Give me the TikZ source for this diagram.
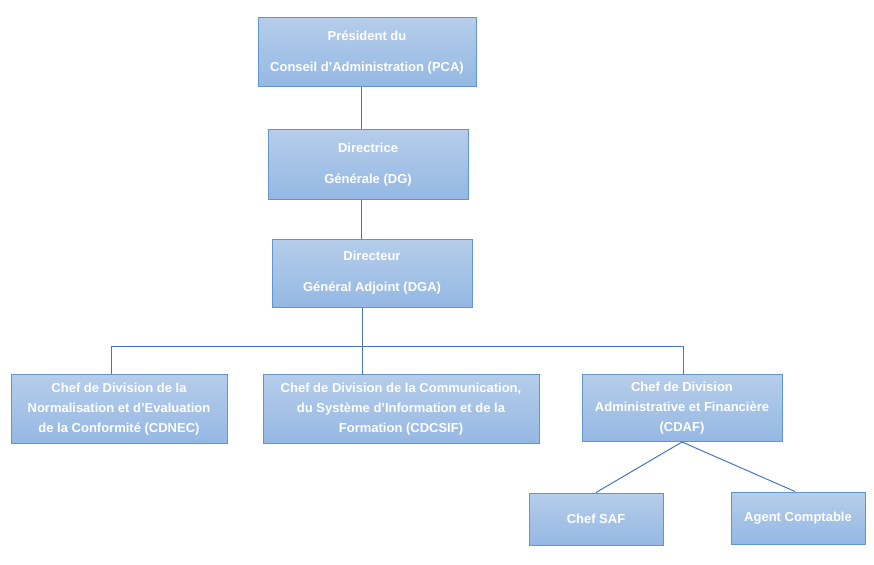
\documentclass[tikz,border=0pt]{standalone}
\usepackage{fontspec}
\setmainfont{Liberation Sans}
\usetikzlibrary{positioning}

\definecolor{boxtop}{RGB}{182,205,234}
\definecolor{boxbottom}{RGB}{148,184,227}
\definecolor{boxborder}{RGB}{96,150,208}
\definecolor{linkblue}{RGB}{70,117,196}

\begin{document}
\begin{tikzpicture}[
x=1pt, y=-1pt,
orgbox/.style={rectangle, draw=boxborder, line width=1pt, top color=boxtop, bottom color=boxbottom, text=white, font=\bfseries\fontsize{13}{20}\selectfont, align=center, inner sep=0pt},
link/.style={draw=linkblue, line width=1pt},
]
\useasboundingbox (0,0) rectangle (874,564);

%Nodes
\node[orgbox, minimum width=218pt, minimum height=69pt] (pca) at (367,52.5) {Président du\\[11pt]Conseil d’Administration (PCA)};

\node[orgbox, minimum width=200pt, minimum height=69pt] (dg) [below=42pt of pca, xshift=1pt] {Directrice\\[11pt]Générale (DG)};
\node[orgbox, minimum width=200pt, minimum height=68pt] (dga) [below=39pt of dg, xshift=4pt] {Directeur\\[11pt]Général Adjoint (DGA)};

\node[orgbox, minimum width=216pt, minimum height=69pt] (cdnec) at (119,409) {Chef de Division de la\\Normalisation et d’Evaluation\\de la Conformité (CDNEC)};
\node[orgbox, minimum width=276pt, minimum height=69pt] (cdcsif) at (401,409) {Chef de Division de la Communication,\\du Système d’Information et de la\\Formation (CDCSIF)};
\node[orgbox, minimum width=200pt, minimum height=67pt] (cdaf) at (682,408) {Chef de Division\\Administrative et Financière\\(CDAF)};

\node[orgbox, minimum width=134pt, minimum height=52pt] (saf) at (596,519) {Chef SAF};
\node[orgbox, minimum width=134pt, minimum height=52pt] (agent) at (798,518) {Agent Comptable};

\coordinate (bus) at (362,346);

%Lines
\draw[link] ([xshift=-6pt]pca.south) -- ([xshift=-6pt]pca.south |- dg.north);
\draw[link] ([xshift=-7pt]dg.south) -- ([xshift=-7pt]dg.south |- dga.north);
\draw[link] (dga.south -| bus) -- (bus);
\draw[link] ([xshift=-8pt]cdnec.north) |- ([xshift=1pt]cdaf.north |- bus) -- ([xshift=1pt]cdaf.north);
\draw[link] (bus) -- (bus |- cdcsif.north);
\draw[link] (cdaf.south) -- (saf.north);
\draw[link] (cdaf.south) -- ([xshift=-3pt]agent.north);

\end{tikzpicture}
\end{document}
